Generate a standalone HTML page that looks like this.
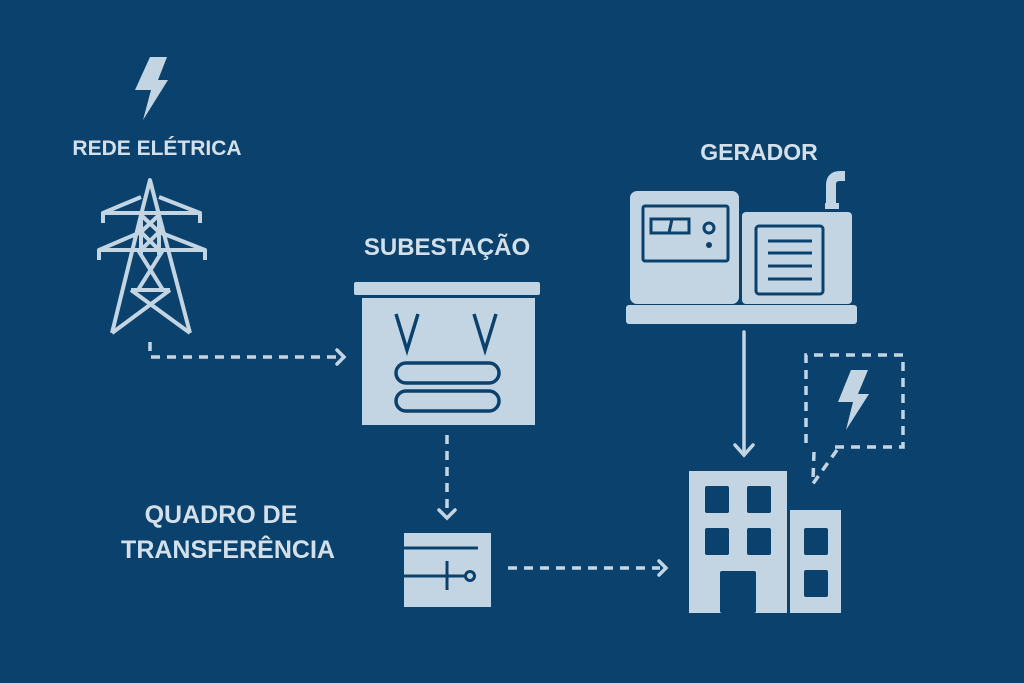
<!DOCTYPE html>
<html><head><meta charset="utf-8"><style>
html,body{margin:0;padding:0;background:#0b426d;}
svg{display:block}
text{font-family:"Liberation Sans",sans-serif;font-weight:bold;fill:#d3e0ea;}
</style></head><body>
<svg width="1024" height="683" viewBox="0 0 1024 683" xmlns="http://www.w3.org/2000/svg">
<rect width="1024" height="683" fill="#0b426d"/>
<g fill="#c3d5e3" stroke="none">
<polygon points="150,57 167,57 158,80 168,80 143,120 151,90 135,90"/>
</g>
<text x="157" y="155" font-size="21" text-anchor="middle">REDE ELÉTRICA</text>
<g stroke="#c3d5e3" stroke-width="4" fill="none" stroke-linejoin="round">
<polyline points="112,333 141,215 150,180 159,215 190,333"/>
<line x1="141" y1="215" x2="141" y2="255"/><line x1="159" y1="215" x2="159" y2="255"/>
<polyline points="103,223 103,213 200,213 200,223"/>
<line x1="103" y1="213" x2="141" y2="197"/><line x1="200" y1="213" x2="159" y2="197"/>
<polyline points="99,260 99,250 205,250 205,260"/>
<line x1="99" y1="250" x2="141" y2="232"/><line x1="205" y1="250" x2="159" y2="232"/>
<line x1="141" y1="215" x2="159" y2="232"/><line x1="159" y1="215" x2="141" y2="232"/>
<line x1="141" y1="232" x2="159" y2="250"/><line x1="159" y1="232" x2="141" y2="250"/>
<line x1="138" y1="250" x2="163" y2="290"/><line x1="163" y1="250" x2="138" y2="290"/>
<line x1="131" y1="290" x2="170" y2="290"/>
<line x1="131" y1="290" x2="190" y2="333"/><line x1="170" y1="290" x2="112" y2="333"/>
</g>
<g stroke="#c3d5e3" stroke-width="3.5" fill="none" stroke-dasharray="9,7">
<polyline points="150,342 150,357 338,357"/>
<line x1="447" y1="435" x2="447" y2="508"/>
<line x1="508" y1="568" x2="660" y2="568"/>
</g>
<g stroke="#c3d5e3" stroke-width="3.5" fill="none" stroke-linecap="round">
<polyline points="337,350 344,357 337,364"/>
<polyline points="439,510 447,518 455,510"/>
<polyline points="659,561 666,568 659,575"/>
<line x1="744" y1="332" x2="744" y2="455"/>
<polyline points="735,445 744,455 753,445"/>
</g>
<text x="447" y="255" font-size="24" text-anchor="middle">SUBESTAÇÃO</text>
<rect x="354" y="282" width="186" height="13" rx="2" fill="#c3d5e3"/>
<rect x="362" y="298" width="173" height="127" fill="#c3d5e3"/>
<g stroke="#0b426d" stroke-width="3.5" fill="none">
<polyline points="396,314 407,350 418,314"/>
<polyline points="474,314 485,350 496,314"/>
<rect x="396" y="363" width="103" height="20" rx="10"/>
<rect x="396" y="391" width="103" height="20" rx="10"/>
</g>
<rect x="404" y="533" width="87" height="74" fill="#c3d5e3"/>
<g stroke="#0b426d" stroke-width="3" fill="none">
<line x1="404" y1="548" x2="478" y2="548"/>
<line x1="404" y1="576" x2="465" y2="576"/>
<line x1="447" y1="561" x2="447" y2="590"/>
<circle cx="470" cy="576" r="4.5"/>
</g>
<text x="221" y="523" font-size="25" text-anchor="middle">QUADRO DE</text>
<text x="228" y="558" font-size="25" text-anchor="middle">TRANSFERÊNCIA</text>
<text x="759" y="160" font-size="23" text-anchor="middle">GERADOR</text>
<g fill="#c3d5e3">
<rect x="630" y="191" width="109" height="113" rx="7"/>
<rect x="742" y="212" width="110" height="92" rx="4"/>
<rect x="626" y="305" width="231" height="19" rx="3"/>
<rect x="825" y="203" width="14" height="6"/>
</g>
<path d="M831,203 V185 Q831,176 840,176 H845" stroke="#c3d5e3" stroke-width="10" fill="none"/>
<g stroke="#0b426d" stroke-width="3" fill="none">
<rect x="643" y="206" width="85" height="55" rx="2"/>
<rect x="651" y="219" width="38" height="14"/>
<line x1="672" y1="219" x2="669" y2="233"/>
<circle cx="709" cy="228" r="5"/>
<rect x="756" y="226" width="67" height="68" rx="3"/>
<line x1="768" y1="241" x2="812" y2="241"/><line x1="768" y1="253" x2="812" y2="253"/>
<line x1="768" y1="266" x2="812" y2="266"/><line x1="768" y1="279" x2="812" y2="279"/>
</g>
<circle cx="709" cy="245" r="3" fill="#0b426d"/>
<line x1="740.5" y1="212" x2="740.5" y2="304" stroke="#0b426d" stroke-width="2"/>
<g stroke="#c3d5e3" stroke-width="3.5" fill="none" stroke-dasharray="9,7">
<polyline points="835,447 903,447 903,355 806,355 806,447"/>
<line x1="837" y1="450" x2="812" y2="485"/>
<line x1="814" y1="452" x2="813" y2="480"/>
</g>
<polygon points="851,370 868,370 858,394 869,394 846,430 853,402 838,402" fill="#c3d5e3"/>
<rect x="689" y="471" width="98" height="142" fill="#c3d5e3"/>
<rect x="790" y="510" width="51" height="103" fill="#c3d5e3"/>
<g fill="#0b426d">
<rect x="705" y="486" width="24" height="27" rx="2"/><rect x="747" y="486" width="24" height="27" rx="2"/>
<rect x="705" y="528" width="24" height="27" rx="2"/><rect x="747" y="528" width="24" height="27" rx="2"/>
<rect x="720" y="571" width="36" height="42" rx="2"/>
<rect x="804" y="528" width="24" height="27" rx="2"/><rect x="804" y="570" width="24" height="27" rx="2"/>
</g>
</svg>
</body></html>
